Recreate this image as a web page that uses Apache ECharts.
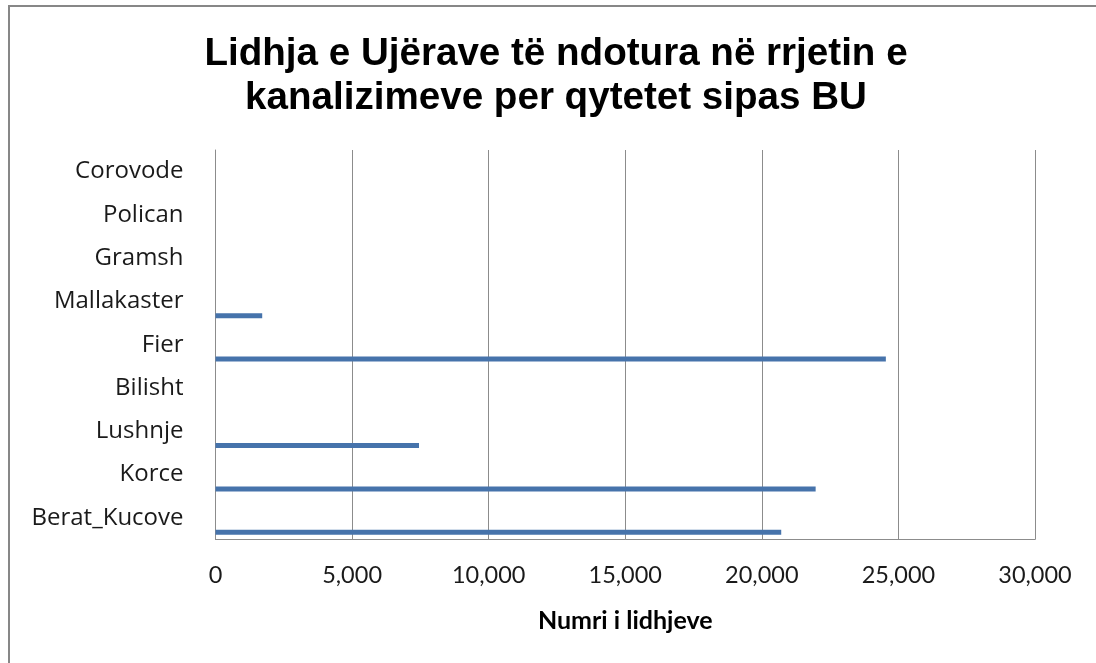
<!DOCTYPE html>
<html>
<head>
<meta charset="utf-8">
<script src="https://cdn.jsdelivr.net/npm/echarts@6/dist/echarts.min.js"></script>
<style>
    html, body { margin: 0; padding: 0; background: #fff; }
    #lidhjetChart { width: 1096px; height: 663px; }
</style>
</head>
<body>
<div id="lidhjetChart"></div>
<script>
// qytetet, nga poshte lart
var cities = ['Berat_Kucove', 'Korce', 'Lushnje', 'Bilisht', 'Fier', 'Mallakaster', 'Gramsh', 'Polican', 'Corovode'];
var connections = [20710, 21970, 7450, null, 24540, 1710, null, null, null];
var xTicks = [0, 5000, 10000, 15000, 20000, 25000, 30000];

var lidhjetChart = echarts.init(document.getElementById('lidhjetChart'));
var option = {
    animation: false,
    backgroundColor: '#fff',
    title: {
        text: 'Lidhja e Ujërave të ndotura në rrjetin e\nkanalizimeve per qytetet sipas BU',
        left: 551,
        textAlign: 'center',
        top: 27,
        textStyle: {
            fontFamily: 'Liberation Sans, Arial',
            fontWeight: 'bold',
            fontSize: 38.6,
            lineHeight: 44,
            color: '#000'
        }
    },
    graphic: [
        {
            type: 'rect',
            shape: { x: 9, y: 6, width: 1200, height: 800 },
            style: { fill: 'none', stroke: '#878787', lineWidth: 2 },
            silent: true
        }
    ],
    grid: {
        left: 215.5,
        right: 61,
        top: 150,
        bottom: 123.5,
        containLabel: false,
        outerBoundsMode: 'none'
    },
    xAxis: {
        type: 'value',
        min: xTicks[0],
        max: xTicks[xTicks.length - 1],
        interval: xTicks[1] - xTicks[0],
        name: 'Numri i lidhjeve',
        nameLocation: 'middle',
        nameGap: 69,
        nameTextStyle: {
            fontFamily: 'Lato',
            fontWeight: 'bold',
            fontSize: 25,
            color: '#000'
        },
        axisLine: { show: true, lineStyle: { color: '#8c8c8c', width: 1 } },
        axisTick: { show: false },
        splitLine: { show: true, lineStyle: { color: '#8c8c8c', width: 1 } },
        axisLabel: {
            margin: 24,
            fontFamily: 'Lato',
            fontSize: 23.5,
            color: '#1a1a1a',
            formatter: function (v) {
                return v.toString().replace(/\B(?=(\d{3})+(?!\d))/g, ',');
            }
        }
    },
    yAxis: {
        type: 'category',
        data: cities,
        axisLine: { show: true, lineStyle: { color: '#8c8c8c', width: 1 } },
        axisTick: { show: false },
        splitLine: { show: false },
        axisLabel: {
            margin: 32,
            fontFamily: 'Open Sans',
            fontSize: 24,
            color: '#1a1a1a'
        }
    },
    series: [
        {
            name: 'bosh',
            type: 'bar',
            barWidth: 5,
            barGap: '472%',
            data: cities.map(function () { return null; })
        },
        {
            name: 'Numri i lidhjeve',
            type: 'bar',
            barWidth: 5,
            barGap: '472%',
            data: connections,
            itemStyle: { color: '#4673AB' }
        }
    ]
};
lidhjetChart.setOption(option);
</script>
</body>
</html>
